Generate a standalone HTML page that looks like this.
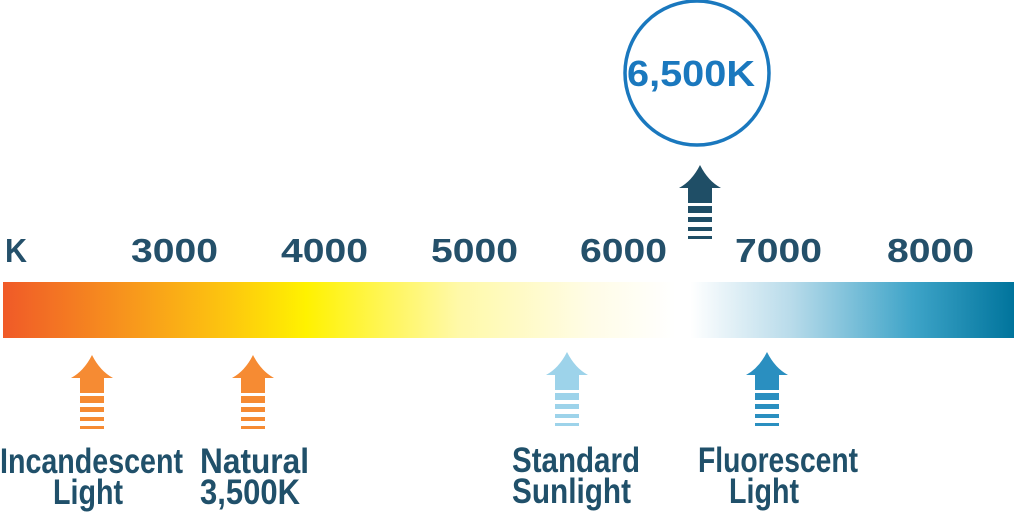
<!DOCTYPE html>
<html><head><style>html,body{margin:0;padding:0;background:#fff;width:1016px;height:514px;overflow:hidden}</style></head>
<body>
<svg width="1016" height="514" viewBox="0 0 1016 514" xmlns="http://www.w3.org/2000/svg">
<defs>
<linearGradient id="g" x1="0" x2="1" y1="0" y2="0">
<stop offset="0" stop-color="#f05a28"/>
<stop offset="0.12" stop-color="#f7941d"/>
<stop offset="0.22" stop-color="#fdc50f"/>
<stop offset="0.30" stop-color="#fff200"/>
<stop offset="0.45" stop-color="#fff9a8"/>
<stop offset="0.58" stop-color="#fffce6"/>
<stop offset="0.665" stop-color="#ffffff"/>
<stop offset="0.68" stop-color="#ffffff"/>
<stop offset="0.78" stop-color="#b8dbea"/>
<stop offset="0.90" stop-color="#3ea4c8"/>
<stop offset="1" stop-color="#00749c"/>
</linearGradient>
<g id="a">
<path d="M0,0 Q8,16 21,23 L12,23 L12,38 L-12,38 L-12,23 L-21,23 Q-8,16 0,0 Z"/>
<rect x="-12" y="41" width="24" height="7"/>
<rect x="-12" y="52" width="24" height="5"/>
<rect x="-12" y="62" width="24" height="4"/>
<rect x="-12" y="71" width="24" height="3"/>
</g>
</defs>
<rect x="3" y="282" width="1011" height="56" fill="url(#g)"/>
<circle cx="697" cy="73" r="72" fill="none" stroke="#1a78be" stroke-width="3.5"/>
<text x="627" y="86" font-family="Liberation Sans, sans-serif" font-weight="bold" font-size="36" fill="#1a78be" textLength="128" lengthAdjust="spacingAndGlyphs">6,500K</text>
<g font-family="Liberation Sans, sans-serif" font-weight="bold" font-size="33" fill="#24506a">
<text x="5" y="262" textLength="22" lengthAdjust="spacingAndGlyphs">K</text>
<text x="131" y="262" textLength="87" lengthAdjust="spacingAndGlyphs">3000</text>
<text x="281" y="262" textLength="87" lengthAdjust="spacingAndGlyphs">4000</text>
<text x="431" y="262" textLength="87" lengthAdjust="spacingAndGlyphs">5000</text>
<text x="580" y="262" textLength="87" lengthAdjust="spacingAndGlyphs">6000</text>
<text x="735" y="262" textLength="87" lengthAdjust="spacingAndGlyphs">7000</text>
<text x="887" y="262" textLength="87" lengthAdjust="spacingAndGlyphs">8000</text>
</g>
<use href="#a" x="700" y="165" fill="#1f4e66"/>
<use href="#a" x="92" y="355" fill="#f68b33"/>
<use href="#a" x="253" y="355" fill="#f68b33"/>
<use href="#a" x="567" y="352" fill="#9dd3ea"/>
<use href="#a" x="767" y="352" fill="#2a8fc0"/>
<g font-family="Liberation Sans Narrow, Liberation Sans, sans-serif" font-weight="bold" font-size="35" fill="#20506a">
<text x="0" y="473" textLength="183" lengthAdjust="spacingAndGlyphs">Incandescent</text>
<text x="53" y="504" textLength="70" lengthAdjust="spacingAndGlyphs">Light</text>
<text x="200" y="473" textLength="109" lengthAdjust="spacingAndGlyphs">Natural</text>
<text x="200" y="504" textLength="100" lengthAdjust="spacingAndGlyphs">3,500K</text>
<text x="512" y="472" textLength="128" lengthAdjust="spacingAndGlyphs">Standard</text>
<text x="512" y="503" textLength="119" lengthAdjust="spacingAndGlyphs">Sunlight</text>
<text x="698" y="472" textLength="160" lengthAdjust="spacingAndGlyphs">Fluorescent</text>
<text x="729" y="503" textLength="70" lengthAdjust="spacingAndGlyphs">Light</text>
</g>
</svg>
</body></html>
